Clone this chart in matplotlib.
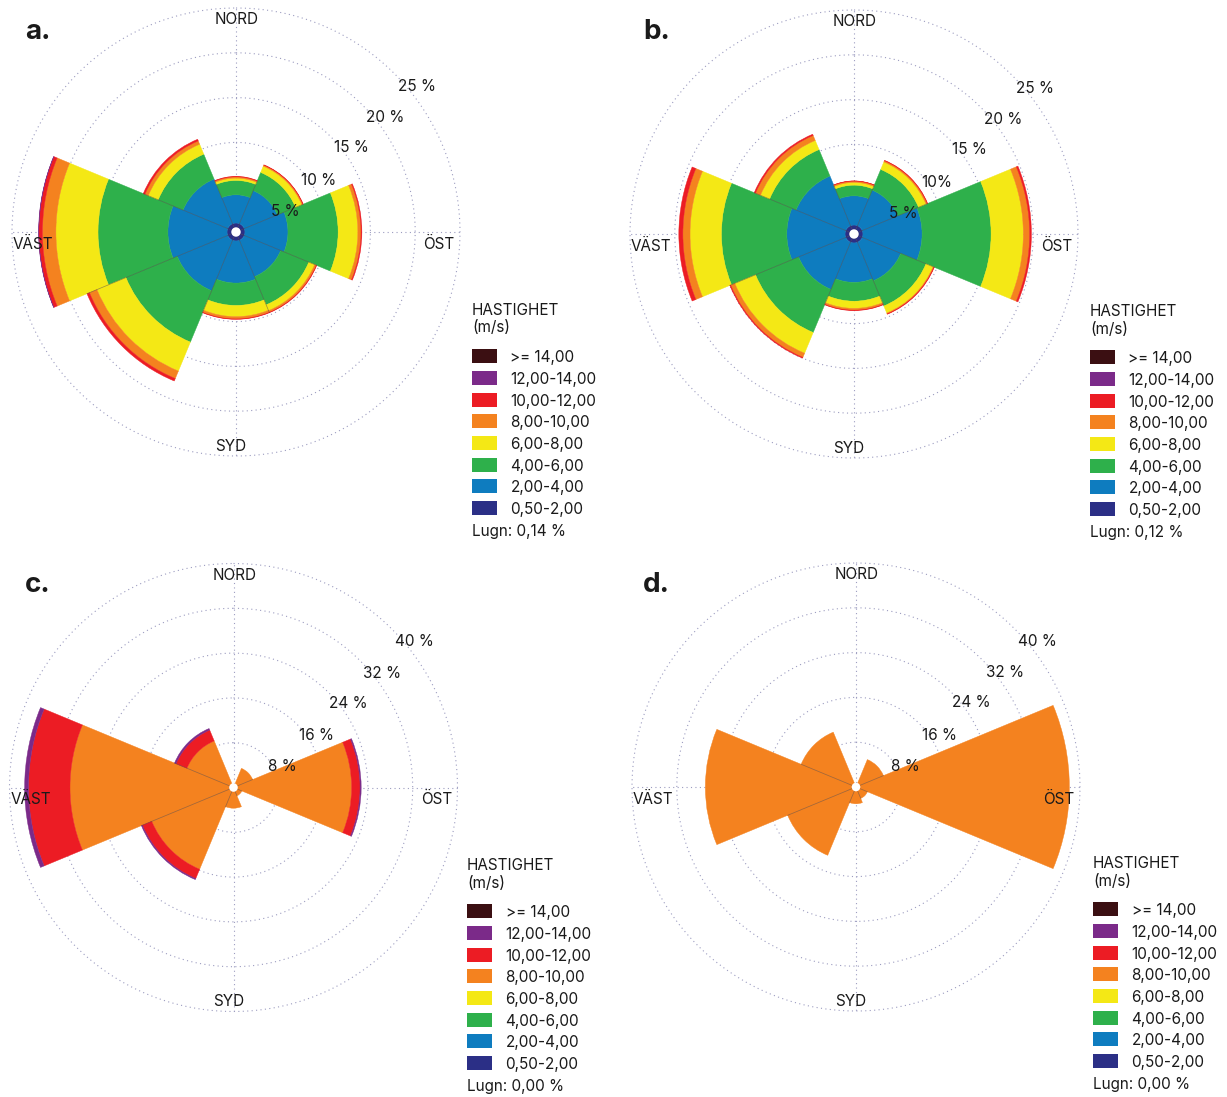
import numpy as np
import matplotlib
matplotlib.use('Agg')
import matplotlib.pyplot as plt
from matplotlib.patches import Rectangle, Circle

plt.rcParams['font.family'] = ['Inter', 'DejaVu Sans']

W, H = 1227, 1097

# directions N, NO, O, SO, S, SV, V, NV (compass degrees)
dir_angles = np.arange(8) * 45.0

speed_classes = ['0,50-2,00', '2,00-4,00', '4,00-6,00', '6,00-8,00',
                 '8,00-10,00', '10,00-12,00', '12,00-14,00', '>= 14,00']
class_colors = ['#2b2f86', '#0e7cbf', '#2eb04b', '#f4e815',
                '#f4821f', '#ec1c24', '#7b2a89', '#3b0f12']

# frequency in % per speed class, one value per direction (N .. NV)
a_navy = [1.0, 1.0, 1.0, 1.0, 1.0, 1.0, 1.0, 1.0]
a_blue = [3.15, 4.0, 4.8, 4.4, 4.7, 6.1, 6.6, 5.4]
a_green = [1.6, 2.2, 5.6, 3.4, 2.5, 6.2, 7.8, 3.0]
a_yellow = [0.26, 0.75, 2.2, 0.7, 1.25, 3.5, 4.7, 1.2]
a_orange = [0.15, 0.13, 0.35, 0.2, 0.25, 0.9, 1.5, 0.4]
a_red = [0.05, 0.04, 0.1, 0.05, 0.05, 0.3, 0.4, 0.2]
a_purple = [0, 0, 0, 0, 0, 0, 0.03, 0]
a_brown = [0, 0, 0, 0, 0, 0, 0, 0]

b_navy = [1.0, 1.0, 1.0, 1.0, 1.0, 1.0, 1.0, 1.0]
b_blue = [3.26, 4.3, 6.6, 4.65, 4.4, 5.7, 6.5, 6.0]
b_green = [1.19, 2.5, 7.7, 3.05, 2.1, 5.2, 7.3, 3.2]
b_yellow = [0.3, 0.9, 3.6, 0.85, 0.8, 2.5, 3.5, 1.1]
b_orange = [0.15, 0.15, 0.7, 0.1, 0.2, 0.5, 0.8, 0.6]
b_red = [0.03, 0.05, 0.2, 0.05, 0.05, 0.1, 0.45, 0.15]
b_purple = [0, 0, 0, 0, 0, 0, 0, 0]
b_brown = [0, 0, 0, 0, 0, 0, 0, 0]

c_orange = [0.5, 3.7, 21.1, 1.6, 3.7, 15.8, 29.2, 9.0]
c_red = [0, 0, 1.5, 0, 0, 1.8, 7.4, 2.1]
c_purple = [0, 0, 0.2, 0, 0, 0.2, 0.7, 0.3]

d_orange = [0.5, 5.3, 38.1, 2.2, 3.0, 13.2, 26.9, 10.6]

zeros = [0] * 8
panel_a = [a_navy, a_blue, a_green, a_yellow, a_orange, a_red, a_purple, a_brown]
panel_b = [b_navy, b_blue, b_green, b_yellow, b_orange, b_red, b_purple, b_brown]
panel_c = [zeros, zeros, zeros, zeros, c_orange, c_red, c_purple, zeros]
panel_d = [zeros, zeros, zeros, zeros, d_orange, zeros, zeros, zeros]

rings_ab = [5, 10, 15, 20, 25]
rings_cd = [8, 16, 24, 32, 40]
ring_labels_ab = ['5 %', '10 %', '15 %', '20 %', '25 %']
ring_labels_b = ['5 %', '10%', '15 %', '20 %', '25 %']
ring_labels_cd = ['8 %', '16 %', '24 %', '32 %', '40 %']
calm = ['Lugn: 0,14 %', 'Lugn: 0,12 %', 'Lugn: 0,00 %', 'Lugn: 0,00 %']
letters = ['a.', 'b.', 'c.', 'd.']

fig = plt.figure(figsize=(W / 100, H / 100), dpi=100)
fig.patch.set_facecolor('white')

R_AX = 235.0      # axes radius in px
RING_PX = 224.0   # radius of outer ring in px
label_ang = [66, 57.5, 53.5, 52.3, 51]
txt_col = '#1a1a1a'
grid_col = '#9c9cc0'


def wind_rose(center, data, rings, rlabels, hole_px, letter, letter_pos, leg_x, leg_y, calm_txt):
    cx, cy = center
    ax = fig.add_axes([(cx - R_AX) / W, (H - cy - R_AX) / H, 2 * R_AX / W, 2 * R_AX / H],
                      projection='polar')
    rmax = rings[-1]
    ax.set_theta_zero_location('N')
    ax.set_theta_direction(-1)
    ax.set_ylim(0, rmax * R_AX / RING_PX)
    ax.spines['polar'].set_visible(False)
    ax.grid(False)
    ax.set_xticks([])
    ax.set_yticks([])

    th = np.linspace(0, 2 * np.pi, 400)
    for v in rings:
        ax.plot(th, np.full_like(th, v), ls=(0, (1, 3)), lw=0.8, color=grid_col, zorder=0.5)
    for ang in [0, 90, 180, 270]:
        ax.plot([np.radians(ang)] * 2, [0, rmax], ls=(0, (1, 3)), lw=0.8, color=grid_col, zorder=0.5)

    theta = np.radians(dir_angles)
    width = 2 * np.pi / 8
    bottom = np.zeros(8)
    for vals, col in zip(data, class_colors):
        vals = np.asarray(vals, dtype=float)
        m = vals > 0
        if m.any():
            ax.bar(theta[m], vals[m], width=width, bottom=bottom[m], color=col,
                   edgecolor=col, linewidth=0.3, zorder=2)
        bottom = bottom + vals

    # thin separators between neighbouring sectors
    for i in range(8):
        r_sep = min(bottom[i], bottom[(i + 1) % 8])
        a_sep = theta[i] + width / 2
        ax.plot([a_sep, a_sep], [0, r_sep], color=(0.3, 0.25, 0.25, 0.55), lw=0.5, zorder=3)

    ax.add_patch(Circle((0.5, 0.5), hole_px / (2 * R_AX), transform=ax.transAxes,
                        facecolor='white', edgecolor='none', zorder=5))

    step = rings[1] - rings[0]
    for v, lab, ang in zip(rings, rlabels, label_ang):
        ax.annotate(lab, xy=(np.radians(ang), v + 0.2 * step), xycoords='data',
                    xytext=(0, -5.5), textcoords='offset pixels',
                    ha='center', va='baseline', fontsize=11, color=txt_col, zorder=6)

    for txt, dx, dy in [('NORD', 1, 208), ('SYD', -5, -219), ('VÄST', -203, -17), ('ÖST', 203, -17)]:
        ax.annotate(txt, xy=(0.5, 0.5), xycoords='axes fraction', xytext=(dx, dy),
                    textcoords='offset pixels', ha='center', va='baseline',
                    fontsize=11, color=txt_col, zorder=6)

    fig.text(letter_pos[0] / W, 1 - letter_pos[1] / H, letter, fontsize=20,
             fontweight='bold', color=txt_col, ha='left', va='baseline')

    # legend
    fig.text(leg_x / W, 1 - leg_y / H, 'HASTIGHET', fontsize=11, color=txt_col, va='baseline')
    fig.text(leg_x / W, 1 - (leg_y + 17.5) / H, '(m/s)', fontsize=11, color=txt_col, va='baseline')
    for i, (lab, col) in enumerate(zip(speed_classes[::-1], class_colors[::-1])):
        yc = leg_y + 41.3 + 21.67 * i
        fig.patches.append(Rectangle((leg_x / W, 1 - (yc + 7) / H), 25 / W, 14 / H,
                                     transform=fig.transFigure, facecolor=col,
                                     edgecolor='none'))
        fig.text((leg_x + 38.5) / W, 1 - (yc + 6) / H, lab, fontsize=11,
                 color=txt_col, va='baseline')
    fig.text(leg_x / W, 1 - (leg_y + 221) / H, calm_txt, fontsize=11, color=txt_col, va='baseline')


wind_rose((236, 232), panel_a, rings_ab, ring_labels_ab, 4.7, letters[0], (25, 39), 472, 315, calm[0])
wind_rose((854, 234), panel_b, rings_ab, ring_labels_b, 4.7, letters[1], (643, 39), 1090, 316, calm[1])
wind_rose((233.5, 787.5), panel_c, rings_cd, ring_labels_cd, 4.3, letters[2], (25, 592), 467, 870, calm[2])
wind_rose((856, 787), panel_d, rings_cd, ring_labels_cd, 4.3, letters[3], (643, 592), 1093, 868, calm[3])

fig.savefig('out.png', dpi=100, facecolor='white')
